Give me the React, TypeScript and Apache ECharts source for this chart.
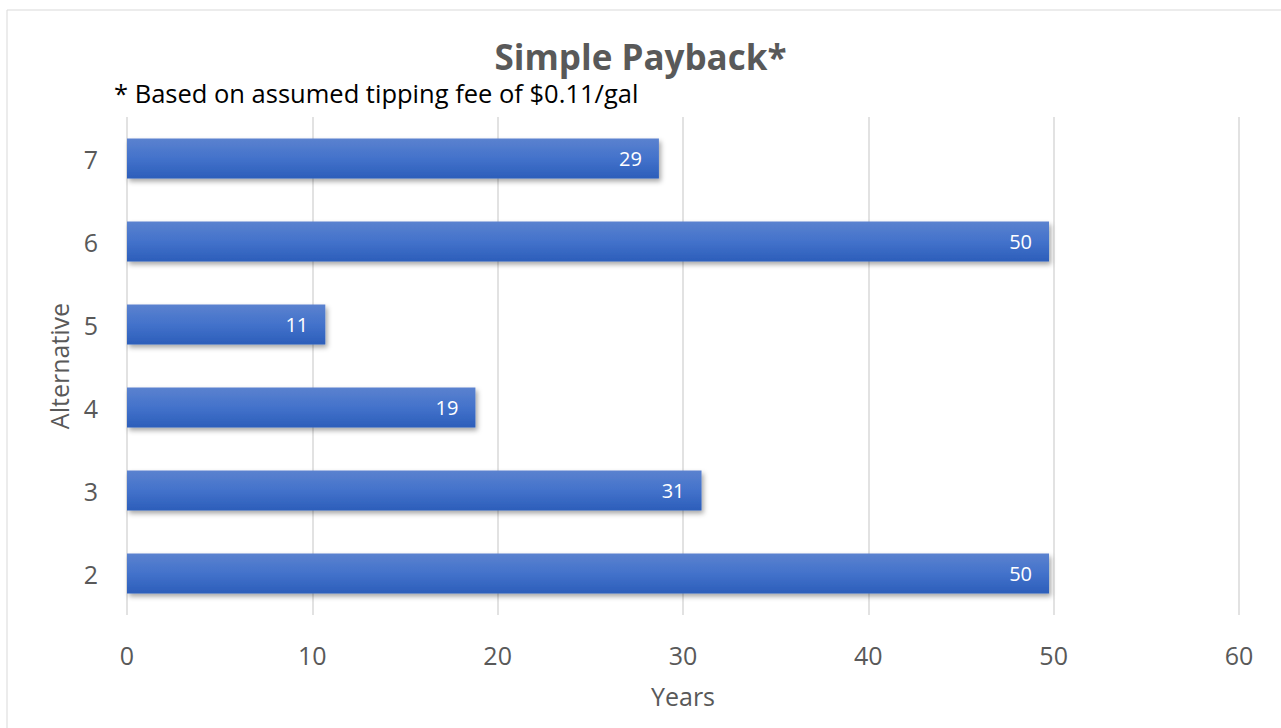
import React, { useEffect, useRef } from "react";
import * as echarts from "echarts";

const categories = ["2", "3", "4", "5", "6", "7"];
const paybackYears = [49.75, 31.0, 18.8, 10.7, 49.75, 28.7];
const xTicks = { min: 0, max: 60, interval: 10 };
const titleText = "Simple Payback*";
const noteText = "* Based on assumed tipping fee of $0.11/gal";
const xName = "Years";
const yName = "Alternative";

const FONT = "'Open Sans', 'Noto Sans', sans-serif";

export default function App() {
  const ref = useRef<HTMLDivElement>(null);
  useEffect(() => {
    document.body.style.margin = "0";
    const chart = echarts.init(ref.current!, null, { renderer: "svg" });
    chart.setOption({
      animation: false,
      backgroundColor: "#ffffff",
      textStyle: { fontFamily: FONT },
      graphic: [
        {
          type: "rect",
          shape: { x: 7, y: 10, width: 1300, height: 740 },
          style: { fill: "none", stroke: "#d9d9d9", lineWidth: 1 },
          silent: true,
          z: -10,
        },
        {
          type: "text",
          left: 114,
          top: 80,
          style: { text: noteText, fill: "#000000", font: `25.5px ${FONT}` },
        },
      ],
      title: {
        text: titleText,
        left: "center",
        top: 34,
        textStyle: { color: "#595959", fontSize: 35, fontWeight: "bold", fontFamily: FONT },
      },
      grid: { left: 127, right: 42, top: 117, bottom: 113 },
      xAxis: {
        type: "value",
        min: xTicks.min,
        max: xTicks.max,
        interval: xTicks.interval,
        axisLine: { show: false },
        axisTick: { show: false },
        splitLine: { lineStyle: { color: "#d9d9d9", width: 1.5 } },
        axisLabel: { color: "#595959", fontSize: 25, margin: 27, fontFamily: FONT },
        name: xName,
        nameLocation: "middle",
        nameGap: 68,
        nameTextStyle: { color: "#595959", fontSize: 25, fontFamily: FONT },
      },
      yAxis: {
        type: "category",
        data: categories,
        axisLine: { show: false },
        axisTick: { show: false },
        axisLabel: { color: "#595959", fontSize: 25, margin: 29, fontFamily: FONT },
        name: yName,
        nameLocation: "middle",
        nameGap: 56,
        nameRotate: 90,
        nameTextStyle: { color: "#595959", fontSize: 25, fontFamily: FONT },
      },
      series: [
        {
          type: "bar",
          data: paybackYears,
          barWidth: 40,
          itemStyle: {
            color: new echarts.graphic.LinearGradient(0, 0, 0, 1, [
              { offset: 0, color: "#5b82cf" },
              { offset: 0.5, color: "#4372cb" },
              { offset: 1, color: "#2c5eba" },
            ]),
            shadowColor: "rgba(0,0,0,0.35)",
            shadowBlur: 5,
            shadowOffsetX: 2,
            shadowOffsetY: 3,
          },
          label: {
            show: true,
            position: "insideRight",
            distance: 17,
            color: "#ffffff",
            fontSize: 20,
            fontFamily: FONT,
            formatter: (p: any) => String(Math.round(p.value)),
          },
        },
      ],
    });
    return () => chart.dispose();
  }, []);
  return <div ref={ref} style={{ width: 1281, height: 728 }} />;
}
